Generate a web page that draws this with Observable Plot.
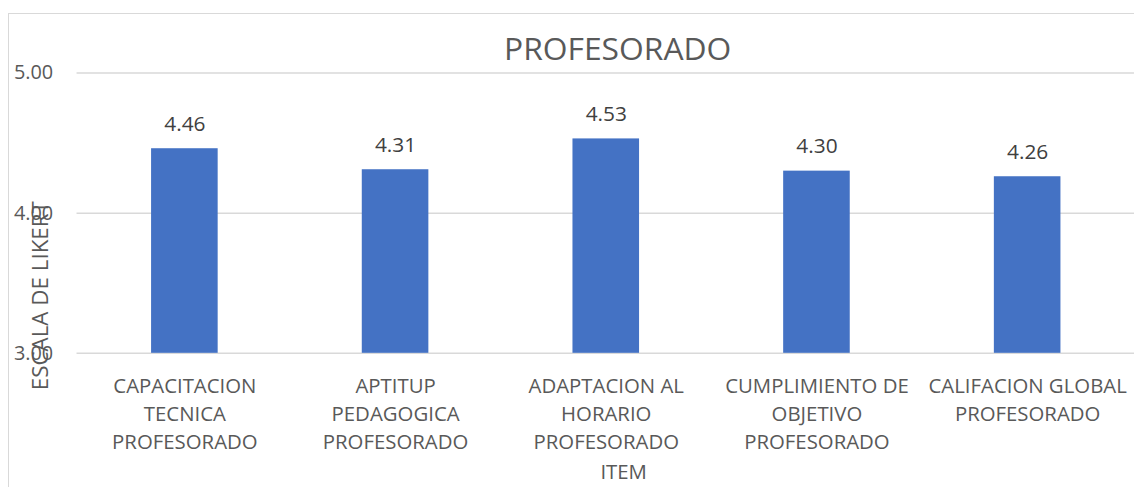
<!DOCTYPE html>
<html>
<head>
<meta charset="utf-8">
<script src="https://cdn.jsdelivr.net/npm/d3@7"></script>
<script src="https://cdn.jsdelivr.net/npm/@observablehq/plot@0.6"></script>
<style>
  html, body { margin: 0; padding: 0; background: #fff; overflow: hidden; }
  #wrap { position: relative; width: 1134px; height: 487px; overflow: hidden; }
  #border { position: absolute; left: 8px; top: 13px; width: 1300px; height: 700px; border: 1.5px solid #d9d9d9; box-sizing: border-box; }
  #chart { position: absolute; left: 0; top: 0; }
</style>
</head>
<body>
<div id="wrap"><div id="border"></div><div id="chart"></div></div>
<script>
const categories = [
  "CAPACITACION TECNICA PROFESORADO",
  "APTITUP PEDAGOGICA PROFESORADO",
  "ADAPTACION AL HORARIO PROFESORADO",
  "CUMPLIMIENTO DE OBJETIVO PROFESORADO",
  "CALIFACION GLOBAL PROFESORADO"
];
const tickLabels = [
  "CAPACITACION\nTECNICA\nPROFESORADO",
  "APTITUP\nPEDAGOGICA\nPROFESORADO",
  "ADAPTACION AL\nHORARIO\nPROFESORADO",
  "CUMPLIMIENTO DE\nOBJETIVO\nPROFESORADO",
  "CALIFACION GLOBAL\nPROFESORADO"
];
const values = [4.46, 4.31, 4.53, 4.30, 4.26];
const yTicks = [3, 4, 5];
const title = "PROFESORADO";
const yLabel = "ESCALA DE LIKERT";
const xLabel = "ITEM";

const data = categories.map((c, i) => ({cat: c, value: values[i]}));
const labelOf = new Map(categories.map((c, i) => [c, tickLabels[i]]));

const chart = Plot.plot({
  width: 1141,
  height: 487,
  marginLeft: 77,
  marginRight: 0,
  marginTop: 73,
  marginBottom: 132,
  style: {fontFamily: "'Open Sans', sans-serif", fontSize: "20px", color: "#595959", background: "transparent", overflow: "visible"},
  x: {domain: categories, paddingInner: 0.685, paddingOuter: 0.3425, label: null},
  y: {domain: [3, 5], label: null},
  marks: [
    Plot.gridY(yTicks, {stroke: "#d9d9d9", strokeOpacity: 1, strokeWidth: 1.5}),
    Plot.barY(data, {x: "cat", y1: 3, y2: "value", fill: "#4472C4"}),
    Plot.axisY(yTicks, {tickSize: 0, tickPadding: 24, tickFormat: d3.format(".2f"), fontSize: 20, fill: "#595959", label: null}),
    Plot.axisX({tickSize: 0, tickPadding: 20, fontSize: 20.5, lineHeight: 1.37, fill: "#595959", label: null, tickFormat: d => labelOf.get(d)}),
    Plot.text(data, {x: "cat", y: "value", text: d => d.value.toFixed(2), dy: -25, fontSize: 21, fill: "#404040"}),
    Plot.text([title], {frameAnchor: "top", lineAnchor: "middle", dy: -23, dx: 12, fontSize: 32, fill: "#595959"}),
    Plot.text([yLabel], {frameAnchor: "left", textAnchor: "middle", lineAnchor: "middle", rotate: -90, dx: -36, dy: 83, fontSize: 22.5, fill: "#595959"}),
    Plot.text([xLabel], {frameAnchor: "bottom", lineAnchor: "middle", dy: 120, dx: 18, fontSize: 20.5, fill: "#595959"})
  ]
});
document.getElementById("chart").appendChild(chart);
</script>
</body>
</html>
